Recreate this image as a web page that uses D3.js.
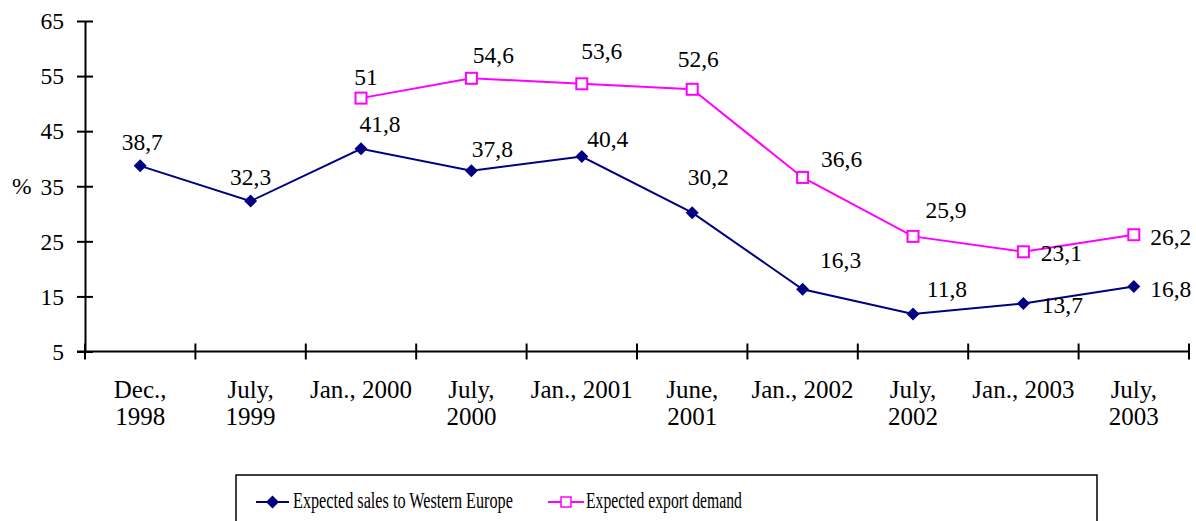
<!DOCTYPE html>
<html>
<head>
<meta charset="utf-8">
<script src="https://cdn.jsdelivr.net/npm/d3@7"></script>
<style>
  body { margin: 0; background: #fff; }
  text { font-family: 'Liberation Serif', serif !important; }
</style>
</head>
<body>
<div id="wrapper"></div>
<script>

// data
const categories = ["Dec.,\n1998", "July,\n1999", "Jan., 2000", "July,\n2000", "Jan., 2001",
  "June,\n2001", "Jan., 2002", "July,\n2002", "Jan., 2003", "July,\n2003"]
const salesWesternEurope = [38.7, 32.3, 41.8, 37.8, 40.4, 30.2, 16.3, 11.8, 13.7, 16.8]
const exportDemand = [null, null, 51, 54.6, 53.6, 52.6, 36.6, 25.9, 23.1, 26.2]
const yTicks = [5, 15, 25, 35, 45, 55, 65]
const seriesNames = ["Expected sales to Western Europe", "Expected export demand"]

// where each value label sits relative to its point (dx to text centre, dy to baseline)
const salesLabelOffsets = [[2, -16], [0, -16], [19, -17], [21, -14], [26, -10],
  [16, -28], [38, -21], [34, -17], [39, 9], [37, 10]]
const exportLabelOffsets = [null, null, [5, -13], [22, -15], [20, -25],
  [6, -22], [39, -10], [33, -18], [38, 9], [37, 10]]

const fmt = v => String(v).replace(".", ",")

function drawChart() {
  const width = 1196
  const height = 521
  const plot = { left: 85, right: 1189, top: 21, bottom: 351.5 }

  const svg = d3.select("#wrapper")
    .append("svg")
      .attr("width", width)
      .attr("height", height)
      .style("font-family", "'Liberation Serif', serif")

  const xScale = d3.scaleBand()
    .domain(d3.range(categories.length))
    .range([plot.left, plot.right])
    .padding(0)
  const xCenter = i => xScale(i) + xScale.bandwidth() / 2

  const yScale = d3.scaleLinear()
    .domain([5, 65])
    .range([plot.bottom, plot.top])

  // y axis
  const yAxis = svg.append("g")
      .attr("transform", `translate(${plot.left},0)`)
      .call(d3.axisLeft(yScale).tickValues(yTicks).tickSize(8).tickSizeOuter(0).tickPadding(13))
      .attr("font-family", null)
      .attr("font-size", null)
  yAxis.select(".domain").attr("stroke", "#000").attr("stroke-width", 2)
  yAxis.selectAll(".tick line").attr("x1", -8).attr("x2", 8).attr("stroke", "#000").attr("stroke-width", 2)
  yAxis.selectAll(".tick text")
      .attr("fill", "#000")
      .attr("dy", "0.33em")
      .style("font-size", "23.5px")

  svg.append("text")
      .attr("x", 12)
      .attr("y", yScale(35))
      .attr("dy", "0.33em")
      .style("font-size", "23.5px")
      .text("%")

  // x axis with ticks on the category boundaries
  const xAxis = svg.append("g")
  xAxis.append("line")
      .attr("x1", plot.left - 8).attr("x2", plot.right)
      .attr("y1", plot.bottom).attr("y2", plot.bottom)
      .attr("stroke", "#000").attr("stroke-width", 2)
  const edges = d3.range(categories.length + 1).map(i => plot.left + i * xScale.bandwidth())
  xAxis.selectAll(".xtick")
    .data(edges)
    .join("line")
      .attr("class", "xtick")
      .attr("x1", d => d).attr("x2", d => d)
      .attr("y1", plot.bottom - 8).attr("y2", plot.bottom + 8)
      .attr("stroke", "#000").attr("stroke-width", 2)

  const catLabels = xAxis.selectAll(".cat")
    .data(categories)
    .join("text")
      .attr("class", "cat")
      .attr("text-anchor", "middle")
      .style("font-size", "25px")
  catLabels.each(function(d, i) {
    d3.select(this).selectAll("tspan")
      .data(d.split("\n"))
      .join("tspan")
        .attr("x", xCenter(i))
        .attr("y", (t, j) => 398 + j * 26.5)
        .text(t => t)
  })

  // lines
  const line = d3.line()
    .defined(d => d != null)
    .x((d, i) => xCenter(i))
    .y(d => yScale(d))

  svg.append("path")
      .datum(exportDemand)
      .attr("d", line)
      .attr("fill", "none")
      .attr("stroke", "#ff00ff")
      .attr("stroke-width", 2)

  svg.append("path")
      .datum(salesWesternEurope)
      .attr("d", line)
      .attr("fill", "none")
      .attr("stroke", "#000080")
      .attr("stroke-width", 2)

  // markers
  const diamond = 6.5
  const diamondPath = (cx, cy) =>
    `M${cx},${cy - diamond}L${cx + diamond},${cy}L${cx},${cy + diamond}L${cx - diamond},${cy}Z`

  svg.selectAll(".dia")
    .data(salesWesternEurope)
    .join("path")
      .attr("class", "dia")
      .attr("d", (d, i) => diamondPath(xCenter(i), yScale(d)))
      .attr("fill", "#000080")

  const sq = 11
  const exportPts = exportDemand.map((d, i) => ({ v: d, i })).filter(d => d.v != null)
  svg.selectAll(".sq")
    .data(exportPts)
    .join("rect")
      .attr("class", "sq")
      .attr("x", d => xCenter(d.i) - sq / 2)
      .attr("y", d => yScale(d.v) - sq / 2)
      .attr("width", sq)
      .attr("height", sq)
      .attr("fill", "#fff")
      .attr("stroke", "#ff00ff")
      .attr("stroke-width", 2)

  // value labels
  svg.selectAll(".lblS")
    .data(salesWesternEurope)
    .join("text")
      .attr("class", "lblS")
      .attr("text-anchor", "middle")
      .attr("x", (d, i) => xCenter(i) + salesLabelOffsets[i][0])
      .attr("y", (d, i) => yScale(d) + salesLabelOffsets[i][1])
      .style("font-size", "23.5px")
      .text(fmt)

  svg.selectAll(".lblE")
    .data(exportPts)
    .join("text")
      .attr("class", "lblE")
      .attr("text-anchor", "middle")
      .attr("x", d => xCenter(d.i) + exportLabelOffsets[d.i][0])
      .attr("y", d => yScale(d.v) + exportLabelOffsets[d.i][1])
      .style("font-size", "23.5px")
      .text(d => fmt(d.v))

  // legend
  const legend = svg.append("g")
  legend.append("rect")
      .attr("x", 236).attr("y", 475)
      .attr("width", 861).attr("height", 70)
      .attr("fill", "none")
      .attr("stroke", "#000")
      .attr("stroke-width", 1.5)

  const ly = 502
  // the legend text is horizontally squeezed in the original
  const squeezed = (x, target, label) => {
    const t = legend.append("text")
        .style("font-size", "23px")
        .text(label)
    const w = t.node().getComputedTextLength()
    t.attr("transform", `translate(${x},508) scale(${target / w},1)`)
  }

  legend.append("line")
      .attr("x1", 256).attr("x2", 289).attr("y1", ly).attr("y2", ly)
      .attr("stroke", "#000080").attr("stroke-width", 2)
  legend.append("path")
      .attr("d", diamondPath(272.5, ly))
      .attr("fill", "#000080")
  squeezed(293, 220, seriesNames[0])

  legend.append("line")
      .attr("x1", 548).attr("x2", 584).attr("y1", ly).attr("y2", ly)
      .attr("stroke", "#ff00ff").attr("stroke-width", 2)
  legend.append("rect")
      .attr("x", 566 - 5).attr("y", ly - 5)
      .attr("width", 10).attr("height", 10)
      .attr("fill", "#fff")
      .attr("stroke", "#ff00ff")
      .attr("stroke-width", 1.5)
  squeezed(586, 156, seriesNames[1])
}

drawChart()
</script>
</body>
</html>
